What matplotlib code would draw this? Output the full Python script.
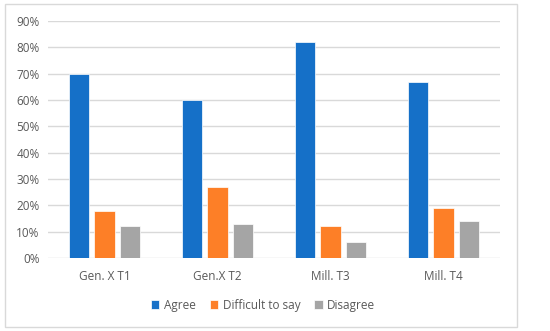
import matplotlib.pyplot as plt
import matplotlib.patches as mpatches
import numpy as np

categories = ["Gen. X T1", "Gen.X T2", "Mill. T3", "Mill. T4"]
agree = [70, 60, 82, 67]
difficult = [18, 27, 12, 19]
disagree = [12, 13, 6, 14]
seriesNames = ["Agree", "Difficult to say", "Disagree"]
colors = ["#1570c8", "#fd7f27", "#a5a5a5"]

plt.rcParams["font.family"] = ["Open Sans", "DejaVu Sans"]

fig = plt.figure(figsize=(5.5, 3.31), dpi=100)
ax = fig.add_axes([48 / 550, 1 - 258 / 331, 452 / 550, 237 / 331])

# outer chart border
fig.patches.append(mpatches.Rectangle((5 / 550, 4 / 331), 512 / 550, 323 / 331,
                                      transform=fig.transFigure, fill=False,
                                      edgecolor="#d9d9d9", linewidth=1))

x = np.arange(len(categories))
width = 0.177
step = 0.225
for k, vals in enumerate([agree, difficult, disagree]):
    ax.bar(x + (k - 1) * step, np.array(vals) / 100, width, color=colors[k],
           label=seriesNames[k], zorder=3, edgecolor="white", linewidth=0.5)

ax.set_xlim(-0.5, len(categories) - 0.5)
ax.set_ylim(0, 0.9)
ax.set_yticks(np.arange(0, 0.91, 0.1))
ax.set_yticklabels([f"{int(round(v * 100))}%" for v in np.arange(0, 0.91, 0.1)])
ax.set_xticks(x)
ax.set_xticklabels(categories)
ax.grid(axis="y", color="#d9d9d9", linewidth=1, zorder=0)
for s in ax.spines.values():
    s.set_visible(False)
ax.tick_params(axis="both", length=0, colors="#595959", labelsize=8.5)
ax.tick_params(axis="x", pad=9)
ax.tick_params(axis="y", pad=6)

ax.legend(loc="center", bbox_to_anchor=(263 / 550, 1 - 305 / 331),
          bbox_transform=fig.transFigure, ncol=3, frameon=False,
          fontsize=8.5, labelcolor="#595959", handlelength=0.7, handleheight=0.7,
          handletextpad=0.4, columnspacing=1.2)

fig.savefig("out.png", dpi=100)
